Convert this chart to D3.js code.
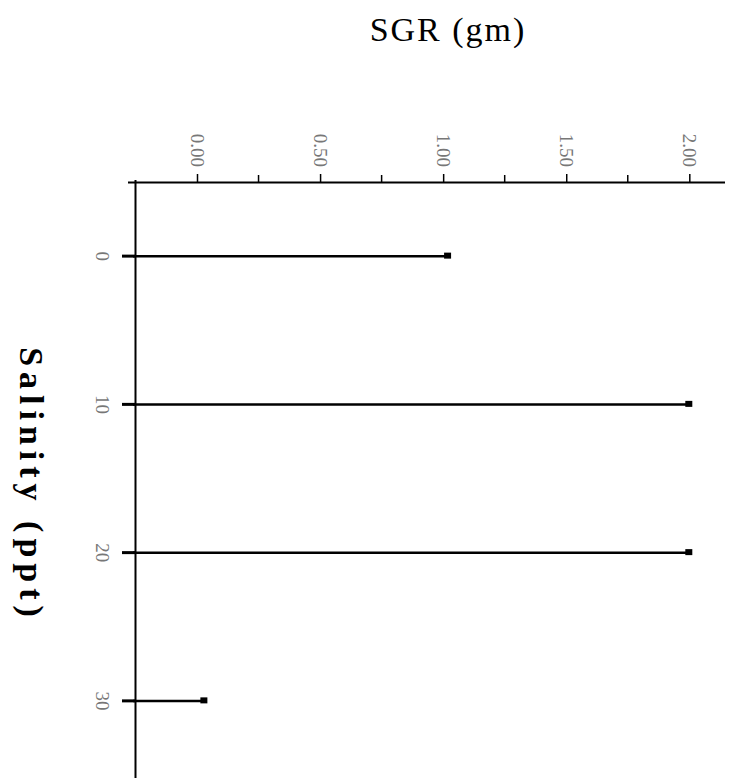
<!DOCTYPE html>
<html>
<head>
<meta charset="utf-8">
<script src="https://cdn.jsdelivr.net/npm/d3@7"></script>
<style>
  body { margin: 0; background: #fff; }
  text { font-family: "Liberation Serif", "DejaVu Serif", serif; }
</style>
</head>
<body>
<div id="chart"></div>
<script>
// salinity rows, top to bottom
var salinity = ["0", "10", "20", "30"];
// SGR values
var sgr = [1.02, 2.00, 2.00, 0.03];
var majorTicks = [0.00, 0.50, 1.00, 1.50, 2.00];
var minorTicks = [0.25, 0.75, 1.25, 1.75];

var width = 734, height = 782;

var svg = d3.select("#chart").append("svg")
    .attr("width", width)
    .attr("height", height);

var x = d3.scaleLinear()
    .domain([-0.26, 2.145])
    .range([133, 725]);

var y = d3.scaleBand()
    .domain(salinity)
    .range([182, 775]);

// top axis
var xAxis = d3.axisTop(x)
    .tickValues(majorTicks)
    .tickSize(8)
    .tickFormat(d3.format(".2f"));

var gx = svg.append("g")
    .attr("transform", "translate(0,182)")
    .call(xAxis);
gx.select(".domain").attr("d", "M128,0.5H725").attr("stroke-width", 2);
gx.selectAll(".tick line").attr("stroke-width", 1.5);
gx.selectAll(".tick text")
    .attr("transform", "rotate(90)")
    .attr("x", -15)
    .attr("y", 0)
    .attr("dy", "0.35em")
    .attr("text-anchor", "end")
    .attr("font-size", 19)
    .attr("fill", "#777");

svg.append("g")
    .selectAll("line")
    .data(minorTicks)
    .enter().append("line")
      .attr("x1", function(d) { return x(d); })
      .attr("x2", function(d) { return x(d); })
      .attr("y1", 182)
      .attr("y2", 175)
      .attr("stroke", "#000")
      .attr("stroke-width", 1.5);

// left axis
var yAxis = d3.axisLeft(y).tickSize(13).tickSizeOuter(0);
var gy = svg.append("g")
    .attr("transform", "translate(135,0)")
    .call(yAxis);
gy.select(".domain").attr("d", "M0.5,180V778").attr("stroke-width", 2);
gy.selectAll(".tick line").attr("stroke-width", 3);
gy.selectAll(".tick text")
    .attr("transform", "translate(-32,0) rotate(90)")
    .attr("x", 0)
    .attr("y", 0)
    .attr("dy", "0.35em")
    .attr("text-anchor", "middle")
    .attr("font-size", 19)
    .attr("fill", "#777");

// bars drawn as lines with a square end
var rows = svg.append("g");
rows.selectAll("line")
    .data(sgr)
    .enter().append("line")
      .attr("x1", x(-0.26))
      .attr("x2", function(d) { return x(d); })
      .attr("y1", function(d, i) { return y(salinity[i]) + y.bandwidth() / 2; })
      .attr("y2", function(d, i) { return y(salinity[i]) + y.bandwidth() / 2; })
      .attr("stroke", "#000")
      .attr("stroke-width", 2.5);

rows.selectAll("rect")
    .data(sgr)
    .enter().append("rect")
      .attr("x", function(d) { return x(d) - 4; })
      .attr("y", function(d, i) { return y(salinity[i]) + y.bandwidth() / 2 - 3.5; })
      .attr("width", 7)
      .attr("height", 6)
      .attr("fill", "#000");

// axis titles
svg.append("text")
    .attr("x", 448)
    .attr("y", 41)
    .attr("text-anchor", "middle")
    .attr("font-size", 34)
    .style("letter-spacing", "2px")
    .text("SGR (gm)");

svg.append("text")
    .attr("transform", "translate(20,485) rotate(90)")
    .attr("text-anchor", "middle")
    .attr("font-size", 34)
    .attr("font-weight", "bold")
    .style("letter-spacing", "6px")
    .text("Salinity (ppt)");
</script>
</body>
</html>
